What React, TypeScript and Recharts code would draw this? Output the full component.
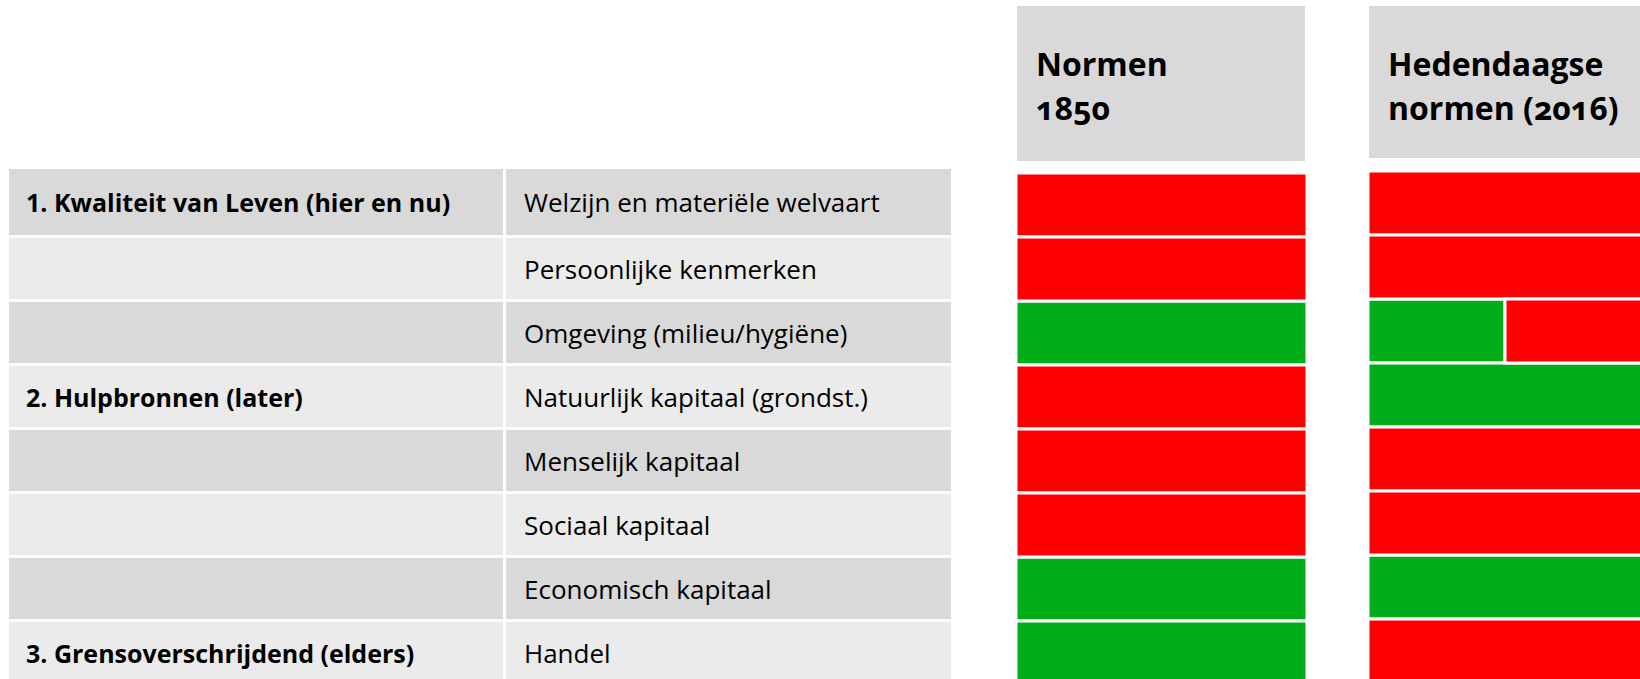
import { BarChart, Bar, XAxis, YAxis } from "recharts"

// rows of the table
const categories = [
  "Welzijn en materiële welvaart",
  "Persoonlijke kenmerken",
  "Omgeving (milieu/hygiëne)",
  "Natuurlijk kapitaal (grondst.)",
  "Menselijk kapitaal",
  "Sociaal kapitaal",
  "Economisch kapitaal",
  "Handel",
]

const groups = [
  "1. Kwaliteit van Leven (hier en nu)",
  "",
  "",
  "2. Hulpbronnen (later)",
  "",
  "",
  "",
  "3. Grensoverschrijdend (elders)",
]

// share of the cell that is green / red
const green1850 = [0, 0, 1, 0, 0, 0, 1, 1]
const red1850 = [1, 1, 0, 1, 1, 1, 0, 0]
const green2016 = [0, 0, 0.5, 1, 0, 0, 1, 0]
const red2016 = [1, 1, 0.5, 0, 1, 1, 0, 1]

const headers = [
  ["Normen", "1850"],
  ["Hedendaagse", "normen (2016)"],
]

const RED = "#ff0000"
const GREEN = "#00ae1a"
const DARK = "#d9d9d9"
const LIGHT = "#ebebeb"
const FONT = '"Open Sans", sans-serif'

interface ScoreColumnProps {
  green: number[]
  red: number[]
  left: number
  top: number
  width: number
}

function ScoreColumn({ green, red, left, top, width }: ScoreColumnProps) {
  const data = categories.map((category, i) => ({
    category,
    green: green[i],
    red: red[i],
  }))

  return (
    <div style={{ position: "absolute", left, top }}>
      <BarChart
        layout="vertical"
        width={width}
        height={512}
        data={data}
        margin={{ top: 0, right: 0, bottom: 0, left: 0 }}
        barCategoryGap={0}
      >
        <XAxis type="number" domain={[0, 1]} hide />
        <YAxis type="category" dataKey="category" hide />
        <Bar dataKey="green" stackId="s" fill={GREEN} stroke="#fff" strokeWidth={3} isAnimationActive={false} />
        <Bar dataKey="red" stackId="s" fill={RED} stroke="#fff" strokeWidth={3} isAnimationActive={false} />
      </BarChart>
    </div>
  )
}

function Header({ lines, left, width, height }: { lines: string[]; left: number; width: number; height: number }) {
  return (
    <div
      style={{
        position: "absolute",
        left,
        top: 6,
        width,
        height,
        background: DARK,
      }}
    >
      <div
        style={{
          position: "absolute",
          left: 19,
          top: 35.6,
          fontFamily: FONT,
          fontWeight: 700,
          fontSize: 32,
          lineHeight: "44px",
          color: "#000",
          whiteSpace: "nowrap",
          fontVariantNumeric: "oldstyle-nums",
        }}
      >
        {lines.map((l) => (
          <div key={l}>{l}</div>
        ))}
      </div>
    </div>
  )
}

export default function App() {
  return (
    <div
      style={{
        position: "absolute",
        left: 0,
        top: 0,
        width: 1640,
        height: 679,
        overflow: "hidden",
        background: "#fff",
      }}
    >
      {categories.map((cat, i) => {
        const top = i === 0 ? 169 : 238 + 64 * (i - 1)
        const height = 235 + 64 * i - top
        const bg = i % 2 === 0 ? DARK : LIGHT
        const cell = {
          position: "absolute" as const,
          top,
          height,
          background: bg,
          display: "flex",
          alignItems: "center",
          fontFamily: FONT,
          color: "#000",
          whiteSpace: "nowrap" as const,
        }
        return (
          <div key={cat}>
            <div style={{ ...cell, left: 9, width: 494, paddingLeft: 17, boxSizing: "border-box", fontWeight: 700, fontSize: 25 }}>
              {groups[i]}
            </div>
            <div style={{ ...cell, left: 506, width: 445, paddingLeft: 18, boxSizing: "border-box", fontSize: 26 }}>
              {cat}
            </div>
          </div>
        )
      })}

      <Header lines={headers[0]} left={1017} width={288} height={155} />
      <Header lines={headers[1]} left={1369} width={271} height={152} />

      <ScoreColumn green={green1850} red={red1850} left={1015.5} top={172.5} width={291} />
      <ScoreColumn green={green2016} red={red2016} left={1367.5} top={170.5} width={274} />
    </div>
  )
}
